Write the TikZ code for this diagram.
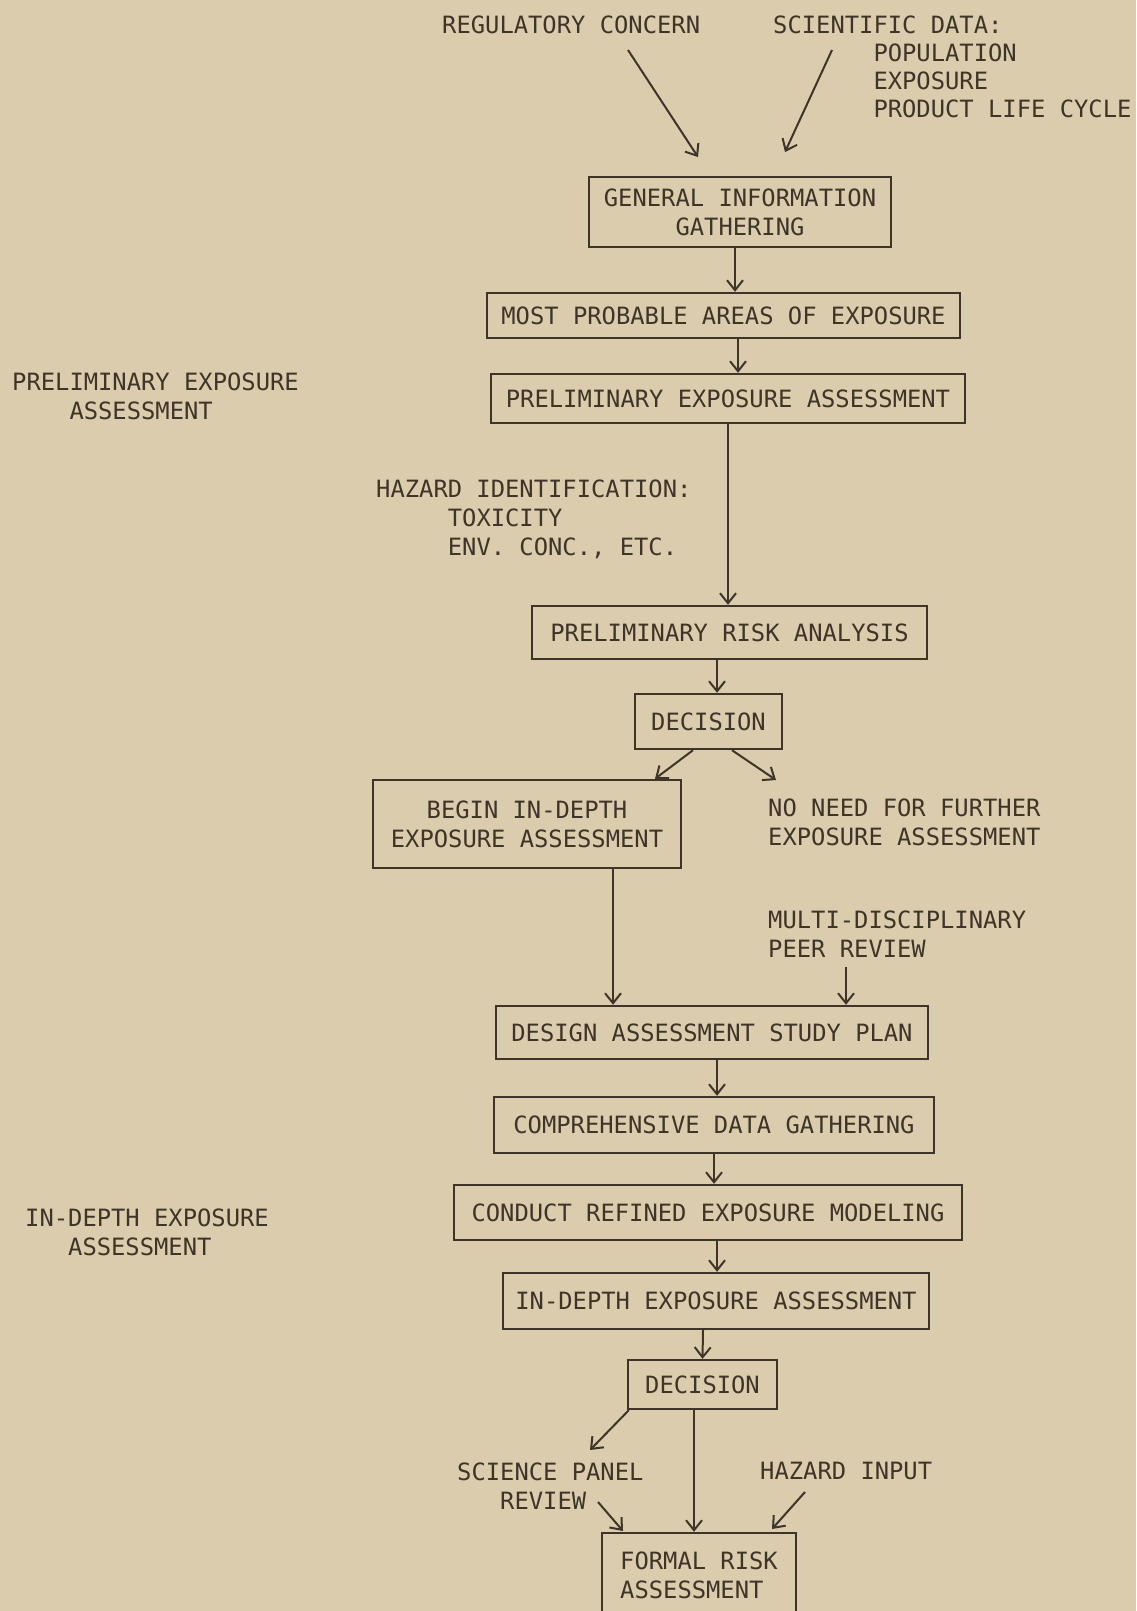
\documentclass[tikz,border=0pt]{standalone}
\usepackage{fontspec}
\setmainfont{DejaVu Sans Mono}
\usetikzlibrary{arrows.meta}
\definecolor{paper}{RGB}{219,204,174}
\definecolor{ink}{RGB}{62,53,40}
\newcommand{\typer}{\fontsize{23.8}{29}\selectfont}

\begin{document}
\begin{tikzpicture}[x=1pt,y=-1pt,
	box/.style={draw=ink, line width=2.4pt, font=\typer, text=ink, align=center, inner sep=0pt},
	txt/.style={font=\typer, text=ink, align=left, inner sep=0pt},
	arr/.style={draw=ink, line width=2pt, -{Straight Barb[length=10pt,width=16pt]}}]
		\fill[paper] (0,0) rectangle (1136,1611);
		\useasboundingbox (0,0) rectangle (1136,1611);

		\draw (442,25) node [txt, anchor=west] (reg){REGULATORY CONCERN};
		\draw (773,16) node [txt, anchor=north west, font=\fontsize{23.8}{28}\selectfont] (sci){SCIENTIFIC DATA:\\\hphantom{SCIENTI}POPULATION\\\hphantom{SCIENTI}EXPOSURE\\\hphantom{SCIENTI}PRODUCT LIFE CYCLE};
		\draw (12,373) node [txt, anchor=north west] (prelim){PRELIMINARY EXPOSURE\\\hphantom{PREL}ASSESSMENT};
		\draw (376,480) node [txt, anchor=north west] (hazid){HAZARD IDENTIFICATION:\\\hphantom{HAZAR}TOXICITY\\\hphantom{HAZAR}ENV. CONC., ETC.};
		\draw (768,799) node [txt, anchor=north west] (noneed){NO NEED FOR FURTHER\\EXPOSURE ASSESSMENT};
		\draw (768,911) node [txt, anchor=north west] (peer){MULTI-DISCIPLINARY\\PEER REVIEW};
		\draw (25,1209) node [txt, anchor=north west] (indepth){IN-DEPTH EXPOSURE\\\hphantom{IN-}ASSESSMENT};
		\draw (457,1463) node [txt, anchor=north west] (panel){SCIENCE PANEL\\\hphantom{SCI}REVIEW};
		\draw (760,1471) node [txt, anchor=west] (hazin){HAZARD INPUT};

		\draw (740,212) node [box, minimum width=302pt, minimum height=70pt] (gi){GENERAL INFORMATION\\GATHERING};
		\draw (723.5,315.5) node [box, minimum width=473pt, minimum height=45pt] (mpa){MOST PROBABLE AREAS OF EXPOSURE};
		\draw (728,398.5) node [box, minimum width=474pt, minimum height=49pt] (pea){PRELIMINARY EXPOSURE ASSESSMENT};
		\draw (729.5,632.5) node [box, minimum width=395pt, minimum height=53pt] (pra){PRELIMINARY RISK ANALYSIS};
		\draw (708.5,721.5) node [box, minimum width=147pt, minimum height=55pt] (dec1){DECISION};
		\draw (527,824) node [box, minimum width=308pt, minimum height=88pt] (begin){BEGIN IN-DEPTH\\EXPOSURE ASSESSMENT};
		\draw (712,1032.5) node [box, minimum width=432pt, minimum height=53pt] (design){DESIGN ASSESSMENT STUDY PLAN};
		\draw (714,1125) node [box, minimum width=440pt, minimum height=56pt] (cdg){COMPREHENSIVE DATA GATHERING};
		\draw (708,1212.5) node [box, minimum width=508pt, minimum height=55pt] (crem){CONDUCT REFINED EXPOSURE MODELING};
		\draw (716,1301) node [box, minimum width=426pt, minimum height=56pt] (idea){IN-DEPTH EXPOSURE ASSESSMENT};
		\draw (702.5,1384.5) node [box, minimum width=149pt, minimum height=49pt] (dec2){DECISION};
		\draw (699,1575) node [box, align=left, minimum width=194pt, minimum height=84pt] (formal){FORMAL RISK\\ASSESSMENT};

		\coordinate (reg-a) at (628,50);
		\coordinate (reg-b) at (698,157);
		\coordinate (sci-a) at (832,50);
		\coordinate (sci-b) at (785,152);
		\coordinate (nn) at (776,780);
		\coordinate (peer-a) at (846,967);
		\coordinate (sp) at (590,1450);
		\coordinate (rev-a) at (598,1502);
		\coordinate (rev-b) at (623,1531);
		\coordinate (hi-a) at (805,1492);
		\coordinate (hi-b) at (772,1529);

		\path[every edge/.style={arr}]
		(reg-a) edge (reg-b)
		(sci-a) edge (sci-b)
		([xshift=-5pt]gi.south) edge ([xshift=11.5pt]mpa.north)
		([xshift=14.5pt]mpa.south) edge ([xshift=10pt]pea.north)
		(pea.south) edge ([xshift=-1.5pt]pra.north)
		([xshift=-12.5pt]pra.south) edge ([xshift=8.5pt]dec1.north)
		([xshift=-15.5pt]dec1.south) edge ([xshift=128pt]begin.north)
		([xshift=23.5pt]dec1.south) edge (nn)
		([xshift=86pt]begin.south) edge ([xshift=-99pt]design.north)
		(peer-a) edge ([xshift=134pt]design.north)
		([xshift=5pt]design.south) edge ([xshift=3pt]cdg.north)
		(cdg.south) edge ([xshift=6pt]crem.north)
		([xshift=9pt]crem.south) edge ([xshift=1pt]idea.north)
		([xshift=-13pt]idea.south) edge (dec2.north)
		([xshift=2pt]dec2.south west) edge (sp)
		([xshift=-8.5pt]dec2.south) edge ([xshift=-5pt]formal.north)
		(rev-a) edge (rev-b)
		(hi-a) edge (hi-b);
	\end{tikzpicture}
\end{document}
